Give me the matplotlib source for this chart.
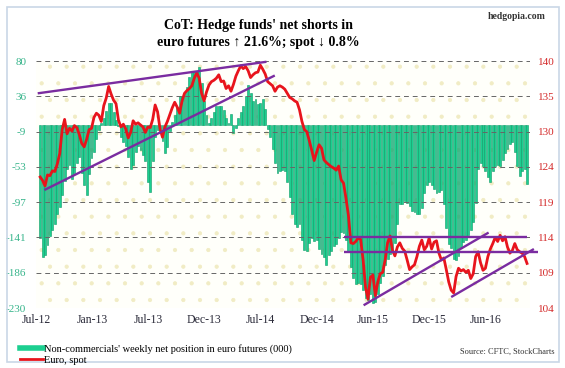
import numpy as np
import matplotlib
matplotlib.use('Agg')
import matplotlib.pyplot as plt
from matplotlib.lines import Line2D
from matplotlib.patches import Rectangle

plt.rcParams['font.family'] = ['Liberation Serif', 'DejaVu Serif']

# weekly net position of non-commercials in euro futures (000), Jul-12 .. Jun-16
net_position = [
    -142, -166, -164, -151, -140, -132, -124, -112, -103, -88,
    -70, -56, -50, -68, -60, -48, -40, -60, -75, -88,
    -62, -42, -34, -18, -6, 2, 8, 17, 27, 27,
    16, 6, -2, -15, -22, -26, -40, -55, -50, -34,
    -26, -32, -38, -46, -72, -84, -45, -15, -6, -5,
    -20, -36, -28, -8, 4, 12, 22, 36, 36, 40,
    48, 60, 67, 67, 68, 73, 52, 30, 12, 2,
    8, 16, 23, 23, 23, 18, 8, 2, 14, -10,
    -4, 8, 16, 24, 36, 50, 40, 30, 32, 26,
    27, 33, 20, -5, -15, -30, -48, -60, -58, -57,
    -58, -72, -90, -112, -124, -128, -125, -145, -157, -158,
    -148, -142, -146, -145, -156, -162, -166, -176, -163, -158,
    -152, -150, -142, -134, -136, -145, -160, -178, -192, -200,
    -198, -200, -208, -218, -220, -212, -224, -222, -212, -198,
    -190, -176, -168, -162, -158, -148, -125, -100, -100, -96,
    -98, -102, -108, -110, -112, -112, -104, -86, -76, -72,
    -76, -80, -86, -84, -82, -100, -130, -150, -155, -168,
    -170, -165, -155, -147, -144, -138, -132, -122, -98, -55,
    -48, -52, -58, -66, -72, -58, -52, -50, -52, -44,
    -36, -30, -24, -22, -34, -52, -64, -58, -56, -74,
]

# euro spot (US cents), same weeks
euro_spot = [
    123.1, 122.6, 121.8, 123.4, 123.3, 124.0, 123.9, 125.0, 126.5, 130.0,
    131.5, 129.4, 130.2, 129.8, 130.6, 130.3, 129.3, 128.0, 127.5, 128.6,
    130.0, 130.2, 131.8, 132.4, 132.1, 131.2, 133.5, 134.6, 136.3, 135.2,
    134.3, 133.8, 131.4, 130.4, 130.8, 130.1, 128.8, 129.6, 131.3, 130.8,
    131.0, 130.7, 130.4, 129.6, 130.4, 130.3, 131.5, 133.6, 132.6, 130.1,
    128.9, 130.4, 131.2, 132.2, 133.2, 134.0, 133.3, 132.4, 134.2, 135.3,
    135.7, 136.0, 136.4, 137.5, 138.3, 137.5, 135.3, 134.2, 135.5, 136.5,
    137.0, 137.2, 137.5, 138.0, 137.0, 137.1, 136.0, 136.4, 135.6, 136.6,
    137.8, 138.6, 139.3, 138.9, 139.2, 138.6, 137.6, 138.0, 138.3, 138.4,
    139.4, 138.8, 138.1, 137.0, 136.7, 136.4, 135.6, 136.2, 136.4, 136.2,
    135.9, 135.3, 134.7, 134.5, 134.2, 134.0, 132.9, 131.2, 130.0, 129.7,
    128.4, 127.0, 125.5, 126.7, 127.8, 127.3, 125.6, 125.2, 124.9, 124.6,
    124.4, 124.1, 124.7, 122.7, 122.2, 120.0, 117.5, 113.5, 113.4, 113.7,
    114.2, 114.0, 111.0, 107.0, 105.3, 108.5, 108.8, 105.8, 107.8, 109.0,
    109.2, 111.0, 113.5, 114.5, 112.4, 111.6, 112.9, 113.5, 112.7, 112.3,
    111.0, 109.6, 110.0, 110.3, 111.5, 113.0, 113.9, 112.5, 113.0, 114.2,
    112.6, 113.6, 113.8, 112.0, 111.0, 111.3, 109.6, 107.8, 106.6, 106.2,
    108.6, 109.8, 109.4, 109.6, 109.2, 109.5, 108.3, 109.0, 111.5, 112.2,
    110.6, 109.5, 109.8, 111.5, 112.6, 113.4, 114.3, 113.7, 114.6, 113.8,
    114.4, 112.9, 112.0, 112.4, 113.4, 112.5, 112.2, 112.0, 111.5, 110.5,
]

x_labels = ['Jul-12', 'Jan-13', 'Jul-13', 'Dec-13', 'Jul-14', 'Dec-14', 'Jun-15', 'Dec-15', 'Jun-16']
left_labels = ['-230', '-186', '-141', '-97', '-53', '-9', '36', '80']
right_labels = ['104', '109', '114', '119', '124', '130', '135', '140']

# trend lines drawn on the spot chart: (week_start, spot_start, week_end, spot_end)
trend_lines = [
    (-1.0, 135.3, 92.5, 139.9),
    (1.7, 121.2, 95.9, 137.9),
    (124.3, 114.4, 198.9, 114.4),
    (124.1, 112.1, 203.6, 112.1),
    (132.2, 104.4, 183.3, 115.0),
    (168.0, 105.6, 201.8, 112.6),
]

green = '#1ccf90'
red = '#e8141c'
purple = '#7a2ca0'

fig = plt.figure(figsize=(5.65, 3.68), dpi=100)
fig.patch.set_facecolor('white')
fig.patches.append(Rectangle((0.012, 0.016), 0.977, 0.964, transform=fig.transFigure,
                             fill=False, edgecolor='#c9d7e6', linewidth=1.2))

ax = fig.add_axes([0.0637, 0.163, 0.8743, 0.671])
ax.set_facecolor('#fffffa')
# faint dotted backdrop of the plot area
plt.rcParams['hatch.linewidth'] = 0.6
ax.add_patch(Rectangle((0, 0), 1, 1, transform=ax.transAxes, facecolor='none',
                       edgecolor='#f1ecc4', hatch='.', linewidth=0, zorder=0))

weeks = np.arange(len(net_position))
ax.bar(weeks, net_position, width=0.78, color=green, edgecolor='#0f9a68', linewidth=0.4, zorder=1)
ax.set_xlim(-0.6, 200.2)
ax.set_ylim(-230, 80)

left_ticks = np.linspace(-230, 80, len(left_labels))
ax.set_yticks(left_ticks)
ax.set_yticklabels(left_labels, color='#35b48a', fontsize=8)
for t in left_ticks:
    ax.axhline(t, color='#666666', linestyle=(0, (5, 4)), linewidth=0.7, zorder=3)

x_ticks = -1.7 + 22.95 * np.arange(len(x_labels))
ax.set_xticks(x_ticks)
ax.set_xticklabels(x_labels, fontsize=8.5, color='#2b2b3a')
ax.tick_params(axis='both', length=0)
ax.tick_params(axis='y', pad=7)
ax.tick_params(axis='x', pad=4)
for s in ax.spines.values():
    s.set_visible(False)

ax2 = ax.twinx()
ax2.plot(weeks, euro_spot, color=red, linewidth=2)
for x0, y0, x1, y1 in trend_lines:
    ax2.plot([x0, x1], [y0, y1], color=purple, linewidth=1.7, clip_on=False, solid_capstyle='butt')
ax2.set_ylim(104, 140)
right_ticks = np.linspace(104, 140, len(right_labels))
ax2.set_yticks(right_ticks)
ax2.set_yticklabels(right_labels, color='#d42a2a', fontsize=8)
ax2.tick_params(axis='y', length=0, pad=6)
for s in ax2.spines.values():
    s.set_visible(False)

fig.text(0.457, 0.908, "CoT: Hedge funds' net shorts in\neuro futures \u2191 21.6%; spot \u2193 0.8%",
         ha='center', va='center', fontsize=10, fontweight='bold', linespacing=1.35)
fig.text(0.965, 0.955, 'hedgopia.com', ha='right', va='center', fontsize=7, fontweight='bold',
         color='#333333')
fig.text(0.982, 0.043, 'Source: CFTC, StockCharts', ha='right', va='center', fontsize=6, color='#333333')

handles = [Line2D([], [], color=green, linewidth=4),
           Line2D([], [], color=red, linewidth=2)]
fig.legend(handles, ["Non-commercials' weekly net position in euro futures (000)", 'Euro, spot'],
           loc='lower left', bbox_to_anchor=(0.022, -0.012), frameon=False, fontsize=7.5,
           handlelength=2.2, handletextpad=0.1, labelspacing=0.15, borderaxespad=0.3)

fig.savefig('out.png', dpi=100)
